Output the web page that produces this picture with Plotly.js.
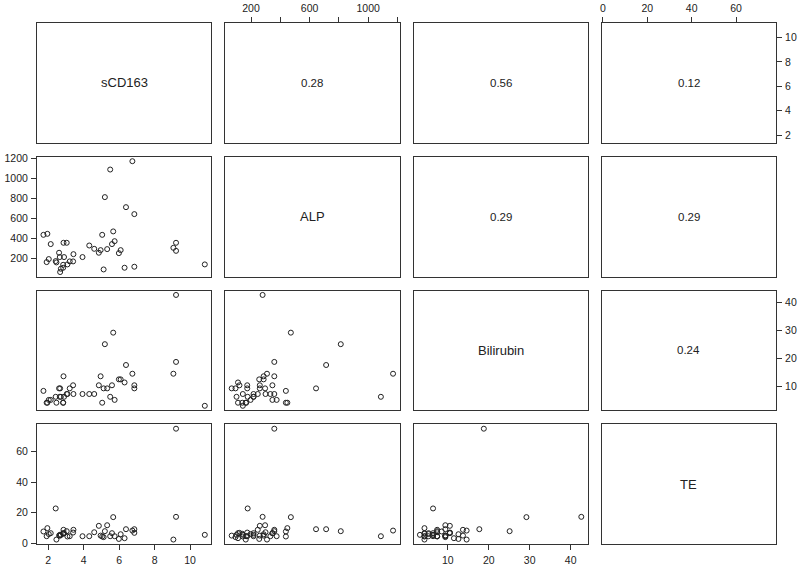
<!DOCTYPE html>
<html>
<head>
<meta charset="utf-8">
<script src="https://cdn.plot.ly/plotly-3.0.1.min.js"></script>
<style>
  body { margin: 0; background: #fff; }
  #pairsPlot { width: 800px; height: 567px; }
</style>
</head>
<body>
<div id="pairsPlot"></div>
<script>
// one value per patient, same order in every array
let sCD163 = [1.74, 1.92, 1.96, 2.04, 2.15, 2.43, 2.47, 2.62, 2.66, 2.68, 2.72, 2.85, 2.85, 2.87, 2.90,
    3.05, 3.09, 3.22, 3.41, 3.43, 3.94, 4.32, 4.60, 4.86, 4.96, 5.05, 5.13, 5.20, 5.33, 5.50,
    5.60, 5.67, 5.75, 5.99, 6.09, 6.31, 6.39, 6.75, 6.86, 6.86, 9.06, 9.21, 9.21, 10.83];
let ALP = [438, 167, 448, 197, 346, 177, 164, 260, 217, 68, 101, 111, 140, 359, 217,
    359, 144, 174, 174, 246, 217, 332, 299, 260, 286, 438, 94, 813, 296, 1087,
    346, 472, 375, 256, 286, 111, 713, 1170, 121, 644, 309, 359, 279, 144];
let bilirubin = [8.5, 4.3, 4.3, 5.3, 5.3, 6.4, 4.3, 9.4, 6.4, 9.4, 6.4, 4.3, 4.3, 13.7, 6.4,
    7.4, 7.4, 9.4, 10.5, 7.4, 7.4, 7.4, 7.4, 10.5, 13.7, 4.3, 9.4, 25.1, 9.4, 6.4,
    10.5, 29.2, 5.3, 12.6, 12.6, 11.5, 17.7, 14.6, 10.5, 9.4, 14.6, 18.8, 42.6, 3.2];
let TE = [7.7, 4.6, 9.9, 6.0, 6.6, 22.8, 2.4, 5.0, 5.5, 5.0, 5.5, 6.6, 6.2, 8.8, 6.6,
    7.9, 4.4, 4.6, 7.0, 8.8, 4.6, 4.6, 7.2, 11.4, 5.0, 4.4, 4.0, 7.9, 11.8, 4.6,
    6.6, 17.1, 4.6, 2.8, 5.9, 3.3, 9.2, 8.3, 6.8, 9.2, 2.4, 75.1, 17.3, 5.5];

let varNames = ["sCD163", "ALP", "Bilirubin", "TE"];

// correlations printed in the upper panels: [row, col, text]
let corrCells = [
    [0, 1, "0.28"], [0, 2, "0.56"], [0, 3, "0.12"],
    [1, 2, "0.29"], [1, 3, "0.29"],
    [2, 3, "0.24"]
];

// tick values per variable, and the labels used on the outer sides
let sCDTicks = [2, 4, 6, 8, 10];
let alpTicks = [200, 400, 600, 800, 1000, 1200];
let alpTopLabels = ["200", "", "600", "", "1000", ""];
let bilTicks = [10, 20, 30, 40];
let teTicks = [0, 20, 40, 60];

let allVars = [sCD163, ALP, bilirubin, TE];
let tickVals = [sCDTicks, alpTicks, bilTicks, teTicks];
let tickTextTopBottom = [sCDTicks.map(String), alpTopLabels, bilTicks.map(String), teTicks.map(String)];
let tickTextSide = [sCDTicks.map(String), alpTicks.map(String), bilTicks.map(String), teTicks.map(String)];

// R style range: data range stretched by 4% each side
function paddedRange(arr) {
    let lo = Math.min(...arr), hi = Math.max(...arr);
    let pad = (hi - lo) * 0.04;
    return [lo - pad, hi + pad];
}
let ranges = allVars.map(paddedRange);

// panel geometry (pixels inside the plot area)
let plotW = 739, plotH = 521, gap = 14;
let panelW = (plotW - 3 * gap) / 4;
let panelH = (plotH - 3 * gap) / 4;

let fontFam = "Liberation Sans, Arial, sans-serif";
let tickFont = { family: fontFam, size: 10.5, color: "#222" };
let corrFont = { family: fontFam, size: 11.5, color: "#222" };

let traces = [];
let layout = {
    width: 800,
    height: 567,
    margin: { l: 37, r: 24, t: 23, b: 23 },
    paper_bgcolor: "#fff",
    plot_bgcolor: "#fff",
    showlegend: false,
    font: corrFont,
    annotations: []
};

for (let r = 0; r < 4; r++) {
    for (let c = 0; c < 4; c++) {
        let n = r * 4 + c + 1;
        let sfx = n === 1 ? "" : String(n);

        let lower = r > c;
        traces.push({
            x: lower ? allVars[c] : [],
            y: lower ? allVars[r] : [],
            xaxis: "x" + sfx,
            yaxis: "y" + sfx,
            type: "scatter",
            mode: "markers",
            marker: { symbol: "circle-open", size: 5, color: "#222", line: { width: 1, color: "#222" } },
            hoverinfo: "skip"
        });

        let x0 = c * (panelW + gap) / plotW;
        let x1 = (c * (panelW + gap) + panelW) / plotW;
        let yTop = r * (panelH + gap);
        let y0 = 1 - (yTop + panelH) / plotH;
        let y1 = 1 - yTop / plotH;

        // which outer sides carry ticks (same rule as R pairs)
        let xTop = (r === 0 && c % 2 === 1);
        let xBottom = (r === 3 && c % 2 === 0);
        let yLeft = (c === 0 && r % 2 === 1);
        let yRight = (c === 3 && r % 2 === 0);

        let xa = {
            domain: [x0, x1],
            anchor: "y" + sfx,
            range: ranges[c],
            showline: true, mirror: true, linecolor: "#333", linewidth: 1,
            showgrid: false, zeroline: false,
            fixedrange: true
        };
        if (xTop || xBottom) {
            xa.side = xTop ? "top" : "bottom";
            xa.tickmode = "array";
            xa.tickvals = tickVals[c];
            xa.ticktext = tickTextTopBottom[c];
            xa.ticks = "outside";
            xa.ticklen = 5;
            xa.tickcolor = "#333";
            xa.ticklabelstandoff = 1;
            xa.tickfont = tickFont;
        } else {
            xa.showticklabels = false;
            xa.ticks = "";
        }

        let ya = {
            domain: [y0, y1],
            anchor: "x" + sfx,
            range: ranges[r],
            showline: true, mirror: true, linecolor: "#333", linewidth: 1,
            showgrid: false, zeroline: false,
            fixedrange: true
        };
        if (yLeft || yRight) {
            ya.side = yRight ? "right" : "left";
            ya.tickmode = "array";
            ya.tickvals = tickVals[r];
            ya.ticktext = tickTextSide[r];
            ya.ticks = "outside";
            ya.ticklen = 5;
            ya.tickcolor = "#333";
            ya.ticklabelstandoff = 1;
            ya.tickfont = tickFont;
        } else {
            ya.showticklabels = false;
            ya.ticks = "";
        }

        layout["xaxis" + sfx] = xa;
        layout["yaxis" + sfx] = ya;

        if (r === c) {
            layout.annotations.push({
                text: varNames[r],
                xref: "x" + sfx + " domain", yref: "y" + sfx + " domain",
                x: 0.5, y: 0.5, showarrow: false,
                font: { family: fontFam, size: 13, color: "#222" }
            });
        }
    }
}

corrCells.forEach(cell => {
    let n = cell[0] * 4 + cell[1] + 1;
    layout.annotations.push({
        text: cell[2],
        xref: "x" + n + " domain", yref: "y" + n + " domain",
        x: 0.5, y: 0.5, showarrow: false,
        font: corrFont
    });
});

Plotly.newPlot("pairsPlot", traces, layout, { staticPlot: true });
</script>
</body>
</html>
